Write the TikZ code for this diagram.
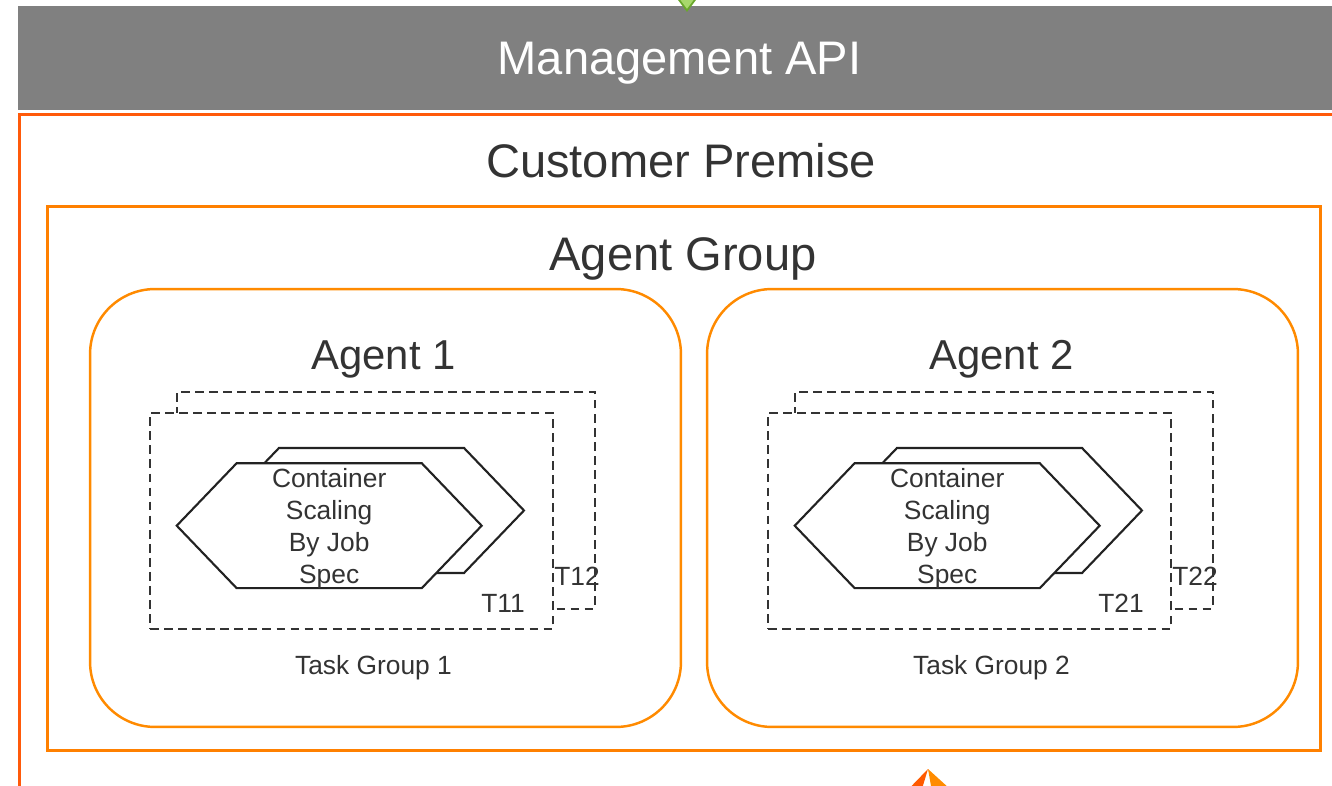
\documentclass[tikz,border=0pt]{standalone}
\usepackage{fontspec}
\setmainfont{Liberation Sans}
\usetikzlibrary{shapes.symbols, arrows.meta}
\definecolor{apigray}{HTML}{808080}
\definecolor{premiseorange}{HTML}{FF5A0A}
\definecolor{grouporange}{HTML}{FF8000}
\definecolor{agentorange}{HTML}{FF8A00}
\definecolor{labelgray}{HTML}{333333}
\definecolor{hexline}{HTML}{222222}
\definecolor{leafgreen}{HTML}{A8D86C}
\definecolor{stemgreen}{HTML}{6AA82C}
\definecolor{arrowred}{HTML}{FF5A00}
\definecolor{arrowamber}{HTML}{FF8C00}
\tikzstyle{apibar} = [rectangle, fill=apigray, inner sep=0pt,
minimum width=26.46cm,
minimum height=2.08cm]
\tikzstyle{premisebox} = [rectangle, draw=premiseorange, line width=1.7pt, inner sep=0pt,
minimum width=26.61cm,
minimum height=13.71cm]
\tikzstyle{groupbox} = [rectangle, draw=grouporange, line width=1.7pt, inner sep=0pt,
minimum width=25.46cm,
minimum height=10.89cm]
\tikzstyle{agentbox} = [rectangle, rounded corners=1.3cm, draw=agentorange, line width=1.4pt, inner sep=0pt,
minimum width=11.82cm,
minimum height=8.76cm]
\tikzstyle{taskback} = [rectangle, draw=labelgray, line width=1.2pt, dash pattern=on 5pt off 3pt, inner sep=0pt,
minimum width=8.36cm,
minimum height=4.34cm]
\tikzstyle{taskfront} = [taskback, fill=white,
minimum width=8.06cm,
minimum height=4.32cm]
\tikzstyle{hexbox} = [signal, signal to=east and west, signal pointer angle=92.4,
draw=hexline, fill=white, line width=1.2pt, inner sep=0pt,
minimum width=6.1cm,
minimum height=2.5cm,
text=labelgray, align=center, text depth=0pt,
font=\fontsize{15}{18.3}\selectfont]
\tikzstyle{bigtitle} = [anchor=base, text=labelgray, font=\fontsize{26.8}{30}\selectfont]
\tikzstyle{agenttitle} = [anchor=base, text=labelgray, font=\fontsize{23.8}{28}\selectfont]
\tikzstyle{smalltext} = [anchor=base, text=labelgray, font=\fontsize{15}{18}\selectfont]
\tikzstyle{apiarrow} = [draw=stemgreen, line width=1pt, -{Triangle[length=0.38cm, width=0.56cm, fill=leafgreen]}]

\begin{document}
\begin{tikzpicture}[x=0.02cm, y=-0.02cm]
        \useasboundingbox (0,0) rectangle (1332,786);
        % frames
        \node (api) [apibar] at (679.5,58) {};
        \node (apilabel) [bigtitle, text=white] at (679.5,75) {Management API};
        \node (premise) [premisebox] at (684.75,457.25) {};
        \node (premiselabel) [bigtitle] at (681,178) {Customer Premise};
        \node (group) [groupbox] at (684,478.75) {};
        \node (grouplabel) [bigtitle] at (683,271) {Agent Group};
        % agent 1
        \node (agent1) [agentbox] at (385.5,508) {};
        \node (agent1label) [agenttitle] at (383.5,370) {Agent 1};
        \node (tg1back) [taskback] at (386,500.5) {};
        \node (tg1front) [taskfront] at (351.5,521) {};
        \node (hex1back) [hexbox] at (371.5,510.5) {};
        \node (hex1front) [hexbox] at (329.2,525.7) {Container\\Scaling\\By Job\\Spec};
        \node (t11) [smalltext] at (503,613) {T11};
        \node (t12) [smalltext] at (577,586) {T12};
        \node (tg1label) [smalltext] at (373.5,675) {Task Group 1};
        % agent 2
        \node (agent2) [agentbox] at (1002.5,508) {};
        \node (agent2label) [agenttitle] at (1001.5,370) {Agent 2};
        \node (tg2back) [taskback] at (1004,500.5) {};
        \node (tg2front) [taskfront] at (969.5,521) {};
        \node (hex2back) [hexbox] at (989.5,510.5) {};
        \node (hex2front) [hexbox] at (947.2,525.7) {Container\\Scaling\\By Job\\Spec};
        \node (t21) [smalltext] at (1121,613) {T21};
        \node (t22) [smalltext] at (1195,586) {T22};
        \node (tg2label) [smalltext] at (991.5,675) {Task Group 2};
        % arrows cut by the frame
        \coordinate (apisrc) at (687,-80);
        \coordinate (apitip) at (687,12);
        \draw [apiarrow] (apisrc) -- (apitip);
        \coordinate (grouptip) at (928,769);
        \fill [arrowred] (grouptip) -- ++(-30,31) -- ++(20.6,0) -- cycle;
        \fill [arrowamber] (grouptip) -- ++(5.5,31) -- ++(28.6,0) -- cycle;
    \end{tikzpicture}
\end{document}
